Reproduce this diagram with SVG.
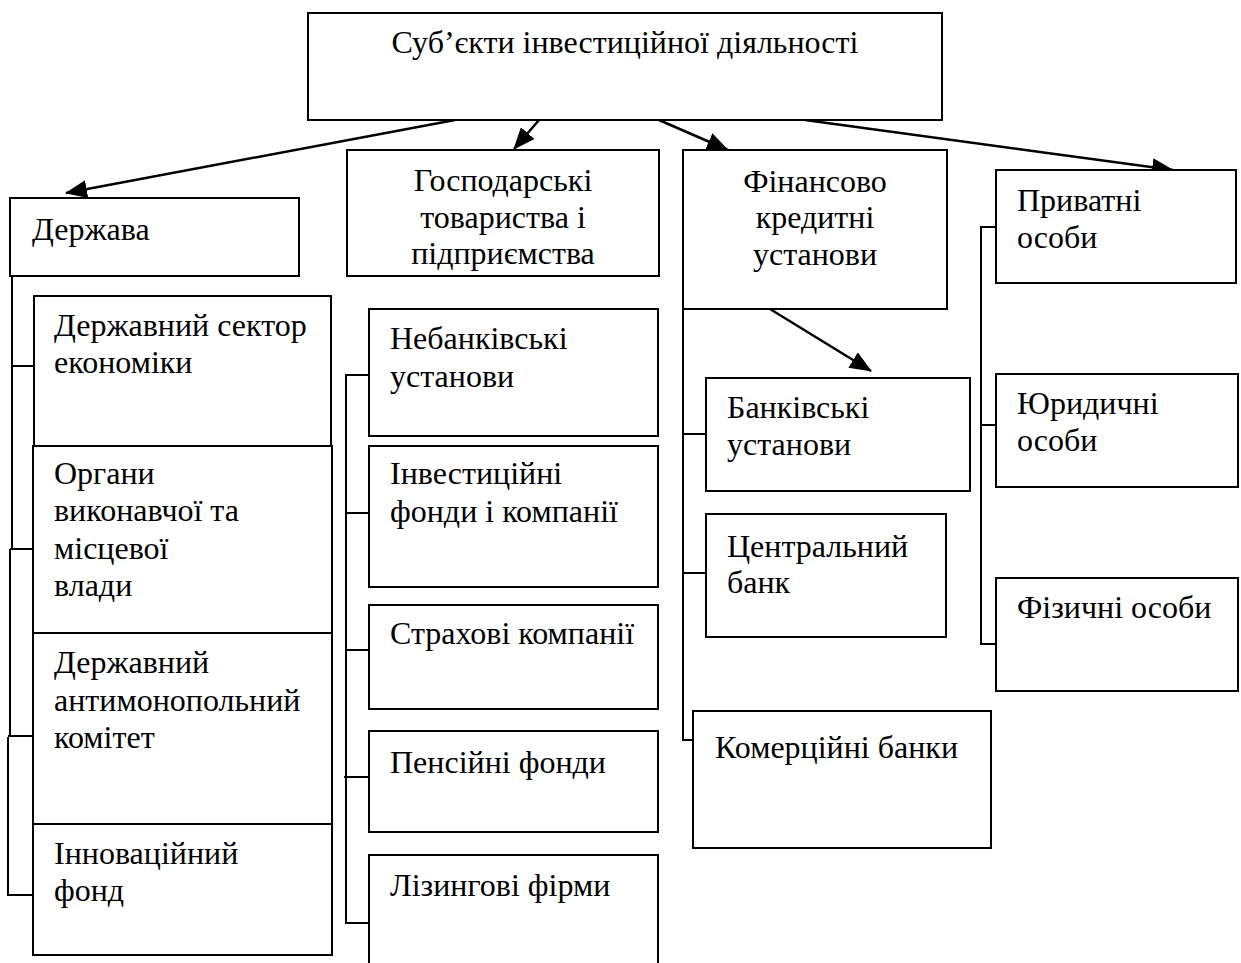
<svg xmlns="http://www.w3.org/2000/svg" width="1241" height="963" viewBox="0 0 1241 963">
<defs>
<style>
.box{fill:#fff;stroke:#000;stroke-width:2}
.t{font-family:"Liberation Serif","Times New Roman",serif;font-size:32px;fill:#000}
.c{text-anchor:middle}
.ln{fill:none;stroke:#000;stroke-width:2}
.ar{fill:none;stroke:#000;stroke-width:2.5}
</style>
<marker id="ah" markerUnits="userSpaceOnUse" markerWidth="22" markerHeight="18" viewBox="0 0 22 18" refX="21" refY="9" orient="auto">
<path d="M0,0 L22,9 L0,18 Z" fill="#000"/>
</marker>
</defs>
<rect width="1241" height="963" fill="#fff"/>

<g id="connectors">
<line class="ar" x1="455" y1="120" x2="66" y2="193" marker-end="url(#ah)"/>
<line class="ar" x1="539" y1="120" x2="514" y2="149" marker-end="url(#ah)"/>
<line class="ar" x1="659" y1="120" x2="728" y2="150" marker-end="url(#ah)"/>
<line class="ar" x1="805" y1="120" x2="1173" y2="170" marker-end="url(#ah)"/>
<line class="ar" x1="770" y1="309" x2="871" y2="371" marker-end="url(#ah)"/>
<polyline class="ln" points="12,276 12,549"/>
<polyline class="ln" points="10,549 10,737"/>
<polyline class="ln" points="8,737 8,895 34,895"/>
<line class="ln" x1="12" y1="366" x2="34" y2="366"/>
<line class="ln" x1="10" y1="549" x2="34" y2="549"/>
<line class="ln" x1="8" y1="736" x2="34" y2="736"/>
<polyline class="ln" points="369,375 346,375 346,923 369,923"/>
<line class="ln" x1="346" y1="513" x2="369" y2="513"/>
<line class="ln" x1="346" y1="650" x2="369" y2="650"/>
<line class="ln" x1="344" y1="777" x2="369" y2="777"/>
<polyline class="ln" points="683,309 683,740 693,740"/>
<line class="ln" x1="683" y1="434" x2="706" y2="434"/>
<line class="ln" x1="683" y1="573" x2="706" y2="573"/>
<polyline class="ln" points="996,227 981,227 981,644 996,644"/>
<line class="ln" x1="981" y1="425" x2="996" y2="425"/>
</g>

<g id="n-root"><rect class="box" x="308" y="13" width="634" height="107"/><text class="t c" x="625" y="53">Суб’єкти інвестиційної діяльності</text></g>

<g id="n-derzhava"><rect class="box" x="10" y="198" width="289" height="78"/><text class="t" x="32" y="240">Держава</text></g>
<g id="n-sektor"><rect class="box" x="34" y="296" width="297" height="150"/><text class="t" x="54" y="336">Державний сектор</text><text class="t" x="54" y="373">економіки</text></g>
<g id="n-organy"><rect class="box" x="33" y="446" width="299" height="187"/><text class="t" x="54" y="484">Органи</text><text class="t" x="54" y="521">виконавчої та</text><text class="t" x="54" y="559">місцевої</text><text class="t" x="54" y="596">влади</text></g>
<g id="n-amk"><rect class="box" x="33" y="633" width="299" height="191"/><text class="t" x="54" y="673">Державний</text><text class="t" x="54" y="711">антимонопольний</text><text class="t" x="54" y="748">комітет</text></g>
<g id="n-innov"><rect class="box" x="33" y="824" width="299" height="131"/><text class="t" x="54" y="864">Інноваційний</text><text class="t" x="54" y="901">фонд</text></g>

<g id="n-gosp"><rect class="box" x="347" y="150" width="312" height="126"/><text class="t c" x="503" y="191">Господарські</text><text class="t c" x="503" y="228">товариства і</text><text class="t c" x="503" y="264">підприємства</text></g>
<g id="n-nebank"><rect class="box" x="369" y="309" width="289" height="127"/><text class="t" x="390" y="349">Небанківські</text><text class="t" x="390" y="387">установи</text></g>
<g id="n-invfond"><rect class="box" x="369" y="446" width="289" height="141"/><text class="t" x="390" y="484">Інвестиційні</text><text class="t" x="390" y="522">фонди і компанії</text></g>
<g id="n-strakh"><rect class="box" x="369" y="605" width="289" height="104"/><text class="t" x="390" y="644">Страхові компанії</text></g>
<g id="n-pens"><rect class="box" x="369" y="731" width="289" height="101"/><text class="t" x="390" y="773">Пенсійні фонди</text></g>
<g id="n-lizing"><rect class="box" x="369" y="855" width="289" height="120"/><text class="t" x="390" y="896">Лізингові фірми</text></g>

<g id="n-fin"><rect class="box" x="683" y="150" width="264" height="159"/><text class="t c" x="815" y="192">Фінансово</text><text class="t c" x="815" y="228">кредитні</text><text class="t c" x="815" y="265">установи</text></g>
<g id="n-bank"><rect class="box" x="706" y="378" width="264" height="113"/><text class="t" x="727" y="418">Банківські</text><text class="t" x="727" y="455">установи</text></g>
<g id="n-central"><rect class="box" x="706" y="514" width="240" height="123"/><text class="t" x="727" y="557">Центральний</text><text class="t" x="727" y="593">банк</text></g>
<g id="n-komerc"><rect class="box" x="693" y="711" width="298" height="137"/><text class="t" x="715" y="758">Комерційні банки</text></g>

<g id="n-pryvat"><rect class="box" x="996" y="170" width="240" height="113"/><text class="t" x="1017" y="211">Приватні</text><text class="t" x="1017" y="248">особи</text></g>
<g id="n-yur"><rect class="box" x="996" y="374" width="242" height="113"/><text class="t" x="1017" y="414">Юридичні</text><text class="t" x="1017" y="451">особи</text></g>
<g id="n-fiz"><rect class="box" x="996" y="578" width="242" height="113"/><text class="t" x="1017" y="618">Фізичні особи</text></g>
</svg>
